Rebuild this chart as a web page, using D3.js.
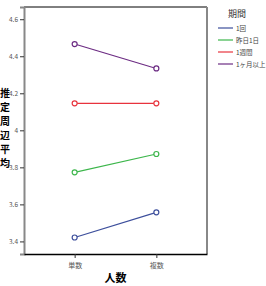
<!DOCTYPE html>
<html>
<head>
<meta charset="utf-8">
<script src="https://cdn.jsdelivr.net/npm/d3@7"></script>
<style>
body { margin: 0; background: #fff; }
text { font-family: "Noto Sans CJK JP", "DejaVu Sans", sans-serif; }
</style>
</head>
<body>
<div id="chart"></div>
<script>
// categories and series
const groups = ['単数', '複数'];
const periods = ['1回', '昨日1日', '1週間', '1ヶ月以上'];
const v1kai = [3.421, 3.557];
const vKinou = [3.773, 3.872];
const v1shukan = [4.146, 4.146];
const v1kagetsu = [4.466, 4.334];
const yTicks = [3.4, 3.6, 3.8, 4, 4.2, 4.4, 4.6];
const colors = ['#3d4f9c', '#3cb64b', '#e8333d', '#6c2c83'];

const series = [v1kai, vKinou, v1shukan, v1kagetsu];

const width = 266, height = 286;
const margin = {top: 7, left: 24, right: 59, bottom: 32};
const innerW = width - margin.left - margin.right;
const innerH = height - margin.top - margin.bottom;

const svg = d3.select('#chart').append('svg')
	.attr('width', width)
	.attr('height', height);

const g = svg.append('g')
	.attr('transform', 'translate(' + margin.left + ',' + margin.top + ')');

const y = d3.scaleLinear().domain([3.332, 4.666]).range([innerH, 0]);
const x = d3.scalePoint().domain(groups).range([0, innerW]).padding(0.62);

// frame
g.append('line').attr('x1', 0).attr('x2', innerW).attr('y1', 0).attr('y2', 0)
	.style('stroke', '#000').style('stroke-width', 1);
g.append('line').attr('x1', innerW).attr('x2', innerW).attr('y1', 0).attr('y2', innerH)
	.style('stroke', '#888').style('stroke-width', 2);

// y axis
const yAxis = g.append('g')
	.call(d3.axisLeft(y).tickValues(yTicks).tickSize(4).tickFormat(d3.format('~g')));
yAxis.select('.domain').style('stroke', '#888').style('stroke-width', 2);
yAxis.selectAll('.tick line').style('stroke', '#333');
yAxis.selectAll('.tick text').style('font-size', '6.5px').style('fill', '#555').attr('x', -6);

// x axis
const xAxis = g.append('g')
	.attr('transform', 'translate(0,' + innerH + ')')
	.call(d3.axisBottom(x).tickSize(4).tickSizeOuter(0));
xAxis.select('.domain').style('stroke', '#000').style('stroke-width', 1.5);
xAxis.selectAll('.tick line').style('stroke', '#333');
xAxis.selectAll('.tick text').style('font-size', '7px').style('fill', '#555').attr('y', 9);

// lines
const line = d3.line()
	.x((d, i) => x(groups[i]))
	.y(d => y(d));

series.forEach(function (s, k) {
	g.append('path').datum(s)
		.attr('d', line)
		.style('fill', 'none')
		.style('stroke', colors[k])
		.style('stroke-width', 1.2);
	g.selectAll('.pt' + k).data(s).enter().append('circle')
		.attr('cx', (d, i) => x(groups[i]))
		.attr('cy', d => y(d))
		.attr('r', 2.5)
		.style('fill', '#fff')
		.style('stroke', colors[k])
		.style('stroke-width', 1.2);
});

// y title, stacked characters
const yTitle = '推定周辺平均';
svg.append('text')
	.selectAll('tspan').data(yTitle.split('')).enter().append('tspan')
	.attr('x', 5)
	.attr('y', (d, i) => 97 + i * 14)
	.style('text-anchor', 'middle')
	.style('font-size', '10px')
	.style('font-weight', 'bold')
	.text(d => d);

// x title
svg.append('text')
	.attr('x', margin.left + x('単数') + (x('複数') - x('単数')) / 2)
	.attr('y', 282)
	.style('text-anchor', 'middle')
	.style('font-size', '11px')
	.style('font-weight', 'bold')
	.text('人数');

// legend
const lg = svg.append('g').attr('transform', 'translate(218,0)');
lg.append('text')
	.attr('x', 19).attr('y', 17)
	.style('text-anchor', 'middle')
	.style('font-size', '9px')
	.style('fill', '#333')
	.text('期間');
periods.forEach(function (p, k) {
	const yy = 28 + k * 12;
	lg.append('line').attr('x1', 0).attr('x2', 15).attr('y1', yy).attr('y2', yy)
		.style('stroke', colors[k]).style('stroke-width', 1.2);
	lg.append('text').attr('x', 18).attr('y', yy + 3)
		.style('font-size', '6.5px').style('fill', '#444')
		.text(p);
});
</script>
</body>
</html>
